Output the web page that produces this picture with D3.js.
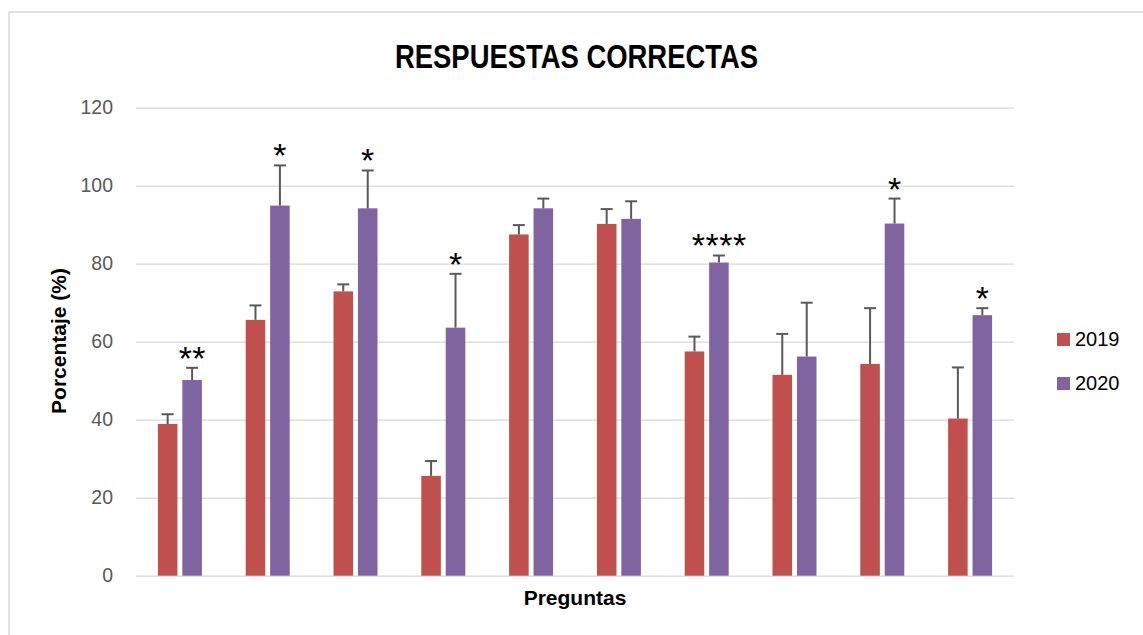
<!DOCTYPE html>
<html>
<head>
<meta charset="utf-8">
<script src="https://cdn.jsdelivr.net/npm/d3@7"></script>
<style>
  html, body { margin: 0; padding: 0; background: #fff; overflow: hidden; }
  svg { display: block; overflow: visible; font-family: "Liberation Sans", Arial, sans-serif; }
</style>
</head>
<body>
<div class="bar-chart-container"></div>
<script>
// Data.
const preguntas = ["P1", "P2", "P3", "P4", "P5", "P6", "P7", "P8", "P9", "P10"];
const years = ["2019", "2020"];
const values2019 = [38.9, 65.6, 72.9, 25.6, 87.5, 90.2, 57.5, 51.5, 54.3, 40.3];
const errors2019 = [2.5, 3.7, 1.8, 3.8, 2.4, 3.8, 3.8, 10.5, 14.3, 13.1];
const values2020 = [50.2, 94.9, 94.2, 63.6, 94.2, 91.5, 80.3, 56.2, 90.3, 66.8];
const errors2020 = [3.1, 10.3, 9.7, 13.8, 2.5, 4.5, 1.8, 13.8, 6.4, 1.8];
const significance = ["**", "*", "*", "*", "", "", "****", "", "*", "*"];
const yTicks = [0, 20, 40, 60, 80, 100, 120];
const colors = ["#C0504D", "#8064A2"];

// Build rows for drawing.
const barData = [];
preguntas.forEach((p, i) => {
  barData.push({ pregunta: p, year: years[0], value: values2019[i], err: errors2019[i], sig: "" });
  barData.push({ pregunta: p, year: years[1], value: values2020[i], err: errors2020[i], sig: significance[i] });
});

// Margin convention.
const totalWidth = 1143;
const totalHeight = 635;
const margin = { top: 107.7, right: 129, bottom: 59.3, left: 136 };
const width = totalWidth - margin.left - margin.right;
const height = totalHeight - margin.top - margin.bottom;

const root = d3
  .select(".bar-chart-container")
  .append("svg")
  .attr("width", totalWidth)
  .attr("height", totalHeight);

// Chart border (only top and left edges are visible).
const border = root.append("g").attr("class", "chart-border");
border
  .append("line")
  .attr("x1", 9)
  .attr("x2", totalWidth)
  .attr("y1", 12)
  .attr("y2", 12);
border
  .append("line")
  .attr("x1", 9)
  .attr("x2", 9)
  .attr("y1", 12)
  .attr("y2", totalHeight);
border
  .selectAll("line")
  .style("stroke", "#D9D9D9")
  .style("stroke-width", 1.5);

// Title.
root
  .append("text")
  .attr("x", 576.5)
  .attr("y", 68)
  .attr("text-anchor", "middle")
  .attr("textLength", 363)
  .attr("lengthAdjust", "spacingAndGlyphs")
  .style("font-size", "34px")
  .style("font-weight", "bold")
  .style("fill", "#000")
  .text("RESPUESTAS CORRECTAS");

const svg = root
  .append("g")
  .attr("transform", `translate(${margin.left}, ${margin.top})`);

// Scales.
const xScale = d3.scaleBand().domain(preguntas).range([0, width]);
const innerWidth = 44;
const xInner = d3
  .scaleBand()
  .domain(years)
  .range([0, innerWidth])
  .paddingInner(0.2);
const yScale = d3.scaleLinear().domain([0, 120]).range([height, 0]);
const colorScale = d3.scaleOrdinal(years, colors);

const barX = (d) =>
  xScale(d.pregunta) + (xScale.bandwidth() - innerWidth) / 2 + xInner(d.year);

// Draw y axis.
const yAxis = d3
  .axisLeft(yScale)
  .tickValues(yTicks)
  .tickSizeInner(-width)
  .tickSizeOuter(0)
  .tickPadding(23)
  .tickFormat(d3.format("d"));

const yAxisDraw = svg.append("g").attr("class", "y axis").call(yAxis);
yAxisDraw.select(".domain").remove();
yAxisDraw
  .selectAll("line")
  .style("stroke", "#D9D9D9")
  .style("stroke-width", 1.3);
yAxisDraw
  .selectAll("text")
  .style("font-size", "19.5px")
  .style("fill", "#595959")
  .style("font-family", "'Liberation Sans', Arial, sans-serif");

// Draw bars.
svg
  .append("g")
  .attr("class", "bars")
  .selectAll("rect")
  .data(barData)
  .enter()
  .append("rect")
  .attr("x", barX)
  .attr("y", (d) => yScale(d.value))
  .attr("width", xInner.bandwidth())
  .attr("height", (d) => height - yScale(d.value))
  .style("fill", (d) => colorScale(d.year));

// Error bars (upper only).
const errGroup = svg.append("g").attr("class", "error-bars");
const capHalf = 6;

errGroup
  .selectAll(".err-line")
  .data(barData)
  .enter()
  .append("line")
  .attr("class", "err-line")
  .attr("x1", (d) => barX(d) + xInner.bandwidth() / 2)
  .attr("x2", (d) => barX(d) + xInner.bandwidth() / 2)
  .attr("y1", (d) => yScale(d.value))
  .attr("y2", (d) => yScale(d.value + d.err))
  .style("stroke", "#595959")
  .style("stroke-width", 2);

errGroup
  .selectAll(".err-cap")
  .data(barData)
  .enter()
  .append("line")
  .attr("class", "err-cap")
  .attr("x1", (d) => barX(d) + xInner.bandwidth() / 2 - capHalf)
  .attr("x2", (d) => barX(d) + xInner.bandwidth() / 2 + capHalf)
  .attr("y1", (d) => yScale(d.value + d.err))
  .attr("y2", (d) => yScale(d.value + d.err))
  .style("stroke", "#595959")
  .style("stroke-width", 2);

// Significance asterisks.
const letterSpacing = 0.5;
svg
  .append("g")
  .attr("class", "sig-labels")
  .selectAll("text")
  .data(barData.filter((d) => d.sig))
  .enter()
  .append("text")
  .attr("x", (d) => barX(d) + xInner.bandwidth() / 2 + letterSpacing / 2)
  .attr("y", (d) => yScale(d.value + d.err) + 2)
  .attr("text-anchor", "middle")
  .style("letter-spacing", `${letterSpacing}px`)
  .style("font-size", "34px")
  .style("fill", "#000")
  .text((d) => d.sig);

// Axis titles.
root
  .append("text")
  .attr("x", 575)
  .attr("y", 605)
  .attr("text-anchor", "middle")
  .style("font-size", "21px")
  .style("font-weight", "bold")
  .style("fill", "#000")
  .text("Preguntas");

root
  .append("text")
  .attr("transform", "translate(66, 341) rotate(-90)")
  .attr("text-anchor", "middle")
  .style("font-size", "21px")
  .style("font-weight", "bold")
  .style("fill", "#000")
  .text("Porcentaje (%)");

// Legend.
const legend = root
  .append("g")
  .attr("class", "legend")
  .attr("transform", "translate(1057, 333)");

const legendItems = legend
  .selectAll("g")
  .data(years)
  .enter()
  .append("g")
  .attr("transform", (d, i) => `translate(0, ${i * 44})`);

legendItems
  .append("rect")
  .attr("width", 13)
  .attr("height", 13)
  .style("fill", (d) => colorScale(d));

legendItems
  .append("text")
  .attr("x", 18)
  .attr("y", 13)
  .style("font-size", "20px")
  .style("fill", "#000")
  .text((d) => d);
</script>
</body>
</html>
